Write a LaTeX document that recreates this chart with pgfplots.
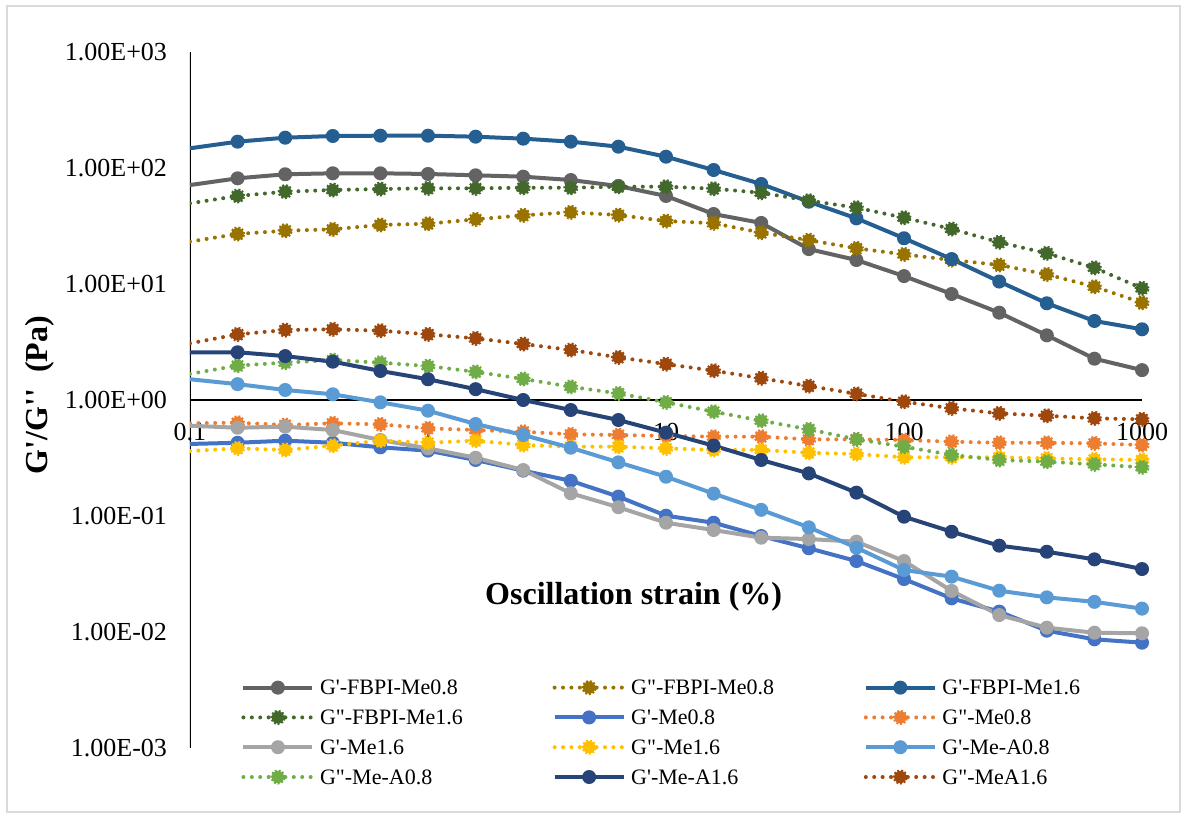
\documentclass[border=0pt]{standalone}
\usepackage{pgfplots}
\pgfplotsset{compat=1.18}
\usepackage{pgfplotstable}
\usepackage{fontspec}
\setmainfont{Liberation Serif}[Ligatures=TeXOff]

\definecolor{cA}{HTML}{636363}
\definecolor{cB}{HTML}{997300}
\definecolor{cC}{HTML}{255E91}
\definecolor{cD}{HTML}{43682B}
\definecolor{cE}{HTML}{4472C4}
\definecolor{cF}{HTML}{ED7D31}
\definecolor{cG}{HTML}{A5A5A5}
\definecolor{cH}{HTML}{FFC000}
\definecolor{cI}{HTML}{5B9BD5}
\definecolor{cJ}{HTML}{70AD47}
\definecolor{cK}{HTML}{264478}
\definecolor{cL}{HTML}{9E480E}

\pgfplotstableread{
x       s1    s2    s3     s4    s5       s6     s7       s8     s9      s10    s11     s12
0.1     71.3  23.2  147.9  49.6  0.418    0.630  0.600    0.363  1.51    1.68   2.58    3.08
0.1585  81.5  27.0  168.7  57.4  0.428    0.637  0.577    0.383  1.37    1.98   2.58    3.68
0.2512  88.3  28.8  182.5  62.5  0.446    0.609  0.589    0.371  1.22    2.10   2.39    4.01
0.3981  90.0  29.6  188.8  64.6  0.428    0.630  0.551    0.404  1.12    2.21   2.14    4.07
0.631   90.0  32.3  189.9  65.9  0.391    0.617  0.452    0.446  0.955   2.10   1.78    3.96
1       88.8  33.1  189.9  66.8  0.366    0.570  0.383    0.428  0.809   1.96   1.51    3.68
1.585   86.5  36.1  186.2  66.8  0.304    0.551  0.318    0.446  0.621   1.75   1.24    3.40
2.512   84.2  39.1  179.0  67.6  0.246    0.533  0.249    0.409  0.499   1.52   1.00    3.04
3.981   78.8  41.5  168.7  67.6  0.201    0.506  0.157    0.396  0.388   1.30   0.820   2.70
6.31    69.9  39.3  152.7  69.0  0.147    0.499  0.119    0.396  0.290   1.14   0.672   2.33
10      57.4  34.9  125.1  69.0  0.1006   0.490  0.0875   0.383  0.218   0.955  0.523   2.04
15.85   40.1  33.4  96.1   66.3  0.0875   0.483  0.0757   0.371  0.156   0.793  0.404   1.79
25.12   33.6  27.7  72.8   61.2  0.0672   0.483  0.0650   0.371  0.113   0.663  0.304   1.54
39.81   20.0  23.9  51.2   52.3  0.0527   0.458  0.0633   0.351  0.0799  0.559  0.233   1.32
63.1    16.1  20.3  36.8   45.5  0.0409   0.458  0.0601   0.342  0.0533  0.458  0.159   1.13
100     11.7  18.0  24.8   37.3  0.0286   0.452  0.0409   0.321  0.0342  0.396  0.0986  0.967
158.5   8.2   16.1  16.4   29.8  0.0195   0.437  0.0226   0.321  0.0300  0.336  0.0732  0.848
251.2   5.66  14.6  10.5   22.9  0.0150   0.428  0.0140   0.321  0.0227  0.304  0.0555  0.767
398.1   3.61  12.1  6.82   18.4  0.01026  0.428  0.0109   0.314  0.0199  0.294  0.0492  0.732
631     2.27  9.48  4.80   13.8  0.00865  0.423  0.00986  0.308  0.0182  0.279  0.0423  0.695
1000    1.81  6.90  4.07   9.18  0.00809  0.409  0.00975  0.304  0.0159  0.263  0.0349  0.682
}\datatable

\pgfplotsset{
  solidser/.style={color=#1, line width=2pt, line join=round, mark=*, mark size=2.9pt, mark phase=2,
    mark options={solid, fill=#1, draw=#1, line width=1.2pt}},
  dotser/.style={color=#1, line width=2pt, line cap=round, dash pattern=on 0pt off 4.2pt, mark=*, mark size=3.1pt, mark phase=2,
    mark options={fill=#1, draw=#1, line width=1.3pt, line cap=butt, dash pattern=on 0.9pt off 0.9pt}},
}

\begin{document}
\begin{tikzpicture}
\begin{axis}[
  width=476pt, height=348pt, scale only axis,
  xmode=log, ymode=log,
  xmin=0.1, xmax=1000, ymin=1e-3, ymax=1e3,
  axis line style={draw=none},
  tick style={draw=none},
  xtick={0.1,1,10,100,1000},
  xticklabels={0.1,1,10,100,1000},
  ytick={1e-3,1e-2,1e-1,1,10,100,1000},
  yticklabels={1.00E-03,1.00E-02,1.00E-01,1.00E+00,1.00E+01,1.00E+02,1.00E+03},
  tick label style={font=\fontsize{13}{15}\selectfont},
  xticklabel style={anchor=center, yshift=158pt},
  yticklabel style={xshift=-8pt},
  legend columns=3,
  legend cell align=left,
  legend style={at={(0.0473,0.1145)}, anchor=north west, draw=none, fill=none,
    font=\fontsize{11}{13}\selectfont,
    nodes={inner sep=2.8pt, text height=8.2pt, text depth=1.1pt},
    /tikz/every odd column/.append style={column sep=0pt},
    /tikz/every even column/.append style={text width=113.5pt}},
  legend image code/.code={\draw[mark repeat=2, mark phase=2, #1] plot coordinates {(0pt,0pt) (17.25pt,0pt) (34.5pt,0pt)};},
]
\draw[black, line width=1pt] (axis cs:0.1,1e-3) -- (axis cs:0.1,1e3);
\draw[black, line width=1pt] (axis cs:0.1,1) -- (axis cs:1000,1);

\addplot[solidser=cA] table[x=x, y=s1] {\datatable};
\addlegendentry{G'-FBPI-Me0.8}
\addplot[dotser=cB] table[x=x, y=s2] {\datatable};
\addlegendentry{G"-FBPI-Me0.8}
\addplot[solidser=cC] table[x=x, y=s3] {\datatable};
\addlegendentry{G'-FBPI-Me1.6}
\addplot[dotser=cD] table[x=x, y=s4] {\datatable};
\addlegendentry{G"-FBPI-Me1.6}
\addplot[solidser=cE] table[x=x, y=s5] {\datatable};
\addlegendentry{G'-Me0.8}
\addplot[dotser=cF] table[x=x, y=s6] {\datatable};
\addlegendentry{G"-Me0.8}
\addplot[solidser=cG] table[x=x, y=s7] {\datatable};
\addlegendentry{G'-Me1.6}
\addplot[dotser=cH] table[x=x, y=s8] {\datatable};
\addlegendentry{G"-Me1.6}
\addplot[solidser=cI] table[x=x, y=s9] {\datatable};
\addlegendentry{G'-Me-A0.8}
\addplot[dotser=cJ] table[x=x, y=s10] {\datatable};
\addlegendentry{G"-Me-A0.8}
\addplot[solidser=cK] table[x=x, y=s11] {\datatable};
\addlegendentry{G'-Me-A1.6}
\addplot[dotser=cL] table[x=x, y=s12] {\datatable};
\addlegendentry{G"-MeA1.6}

\node[font=\bfseries\fontsize{16}{19}\selectfont] at (rel axis cs:0.466,0.217) {Oscillation strain (\%)};
\end{axis}
\node[rotate=90, font=\bfseries\fontsize{16}{19}\selectfont] at (-75pt,176.5pt) {G'/G''\ \ (Pa)};
\draw[black!15, line width=0.7pt] (-91.5pt,-32pt) rectangle (495pt,371pt);
\pgfresetboundingbox
\useasboundingbox (-95pt,-35.5pt) rectangle (498.5pt,374pt);
\end{tikzpicture}
\end{document}
